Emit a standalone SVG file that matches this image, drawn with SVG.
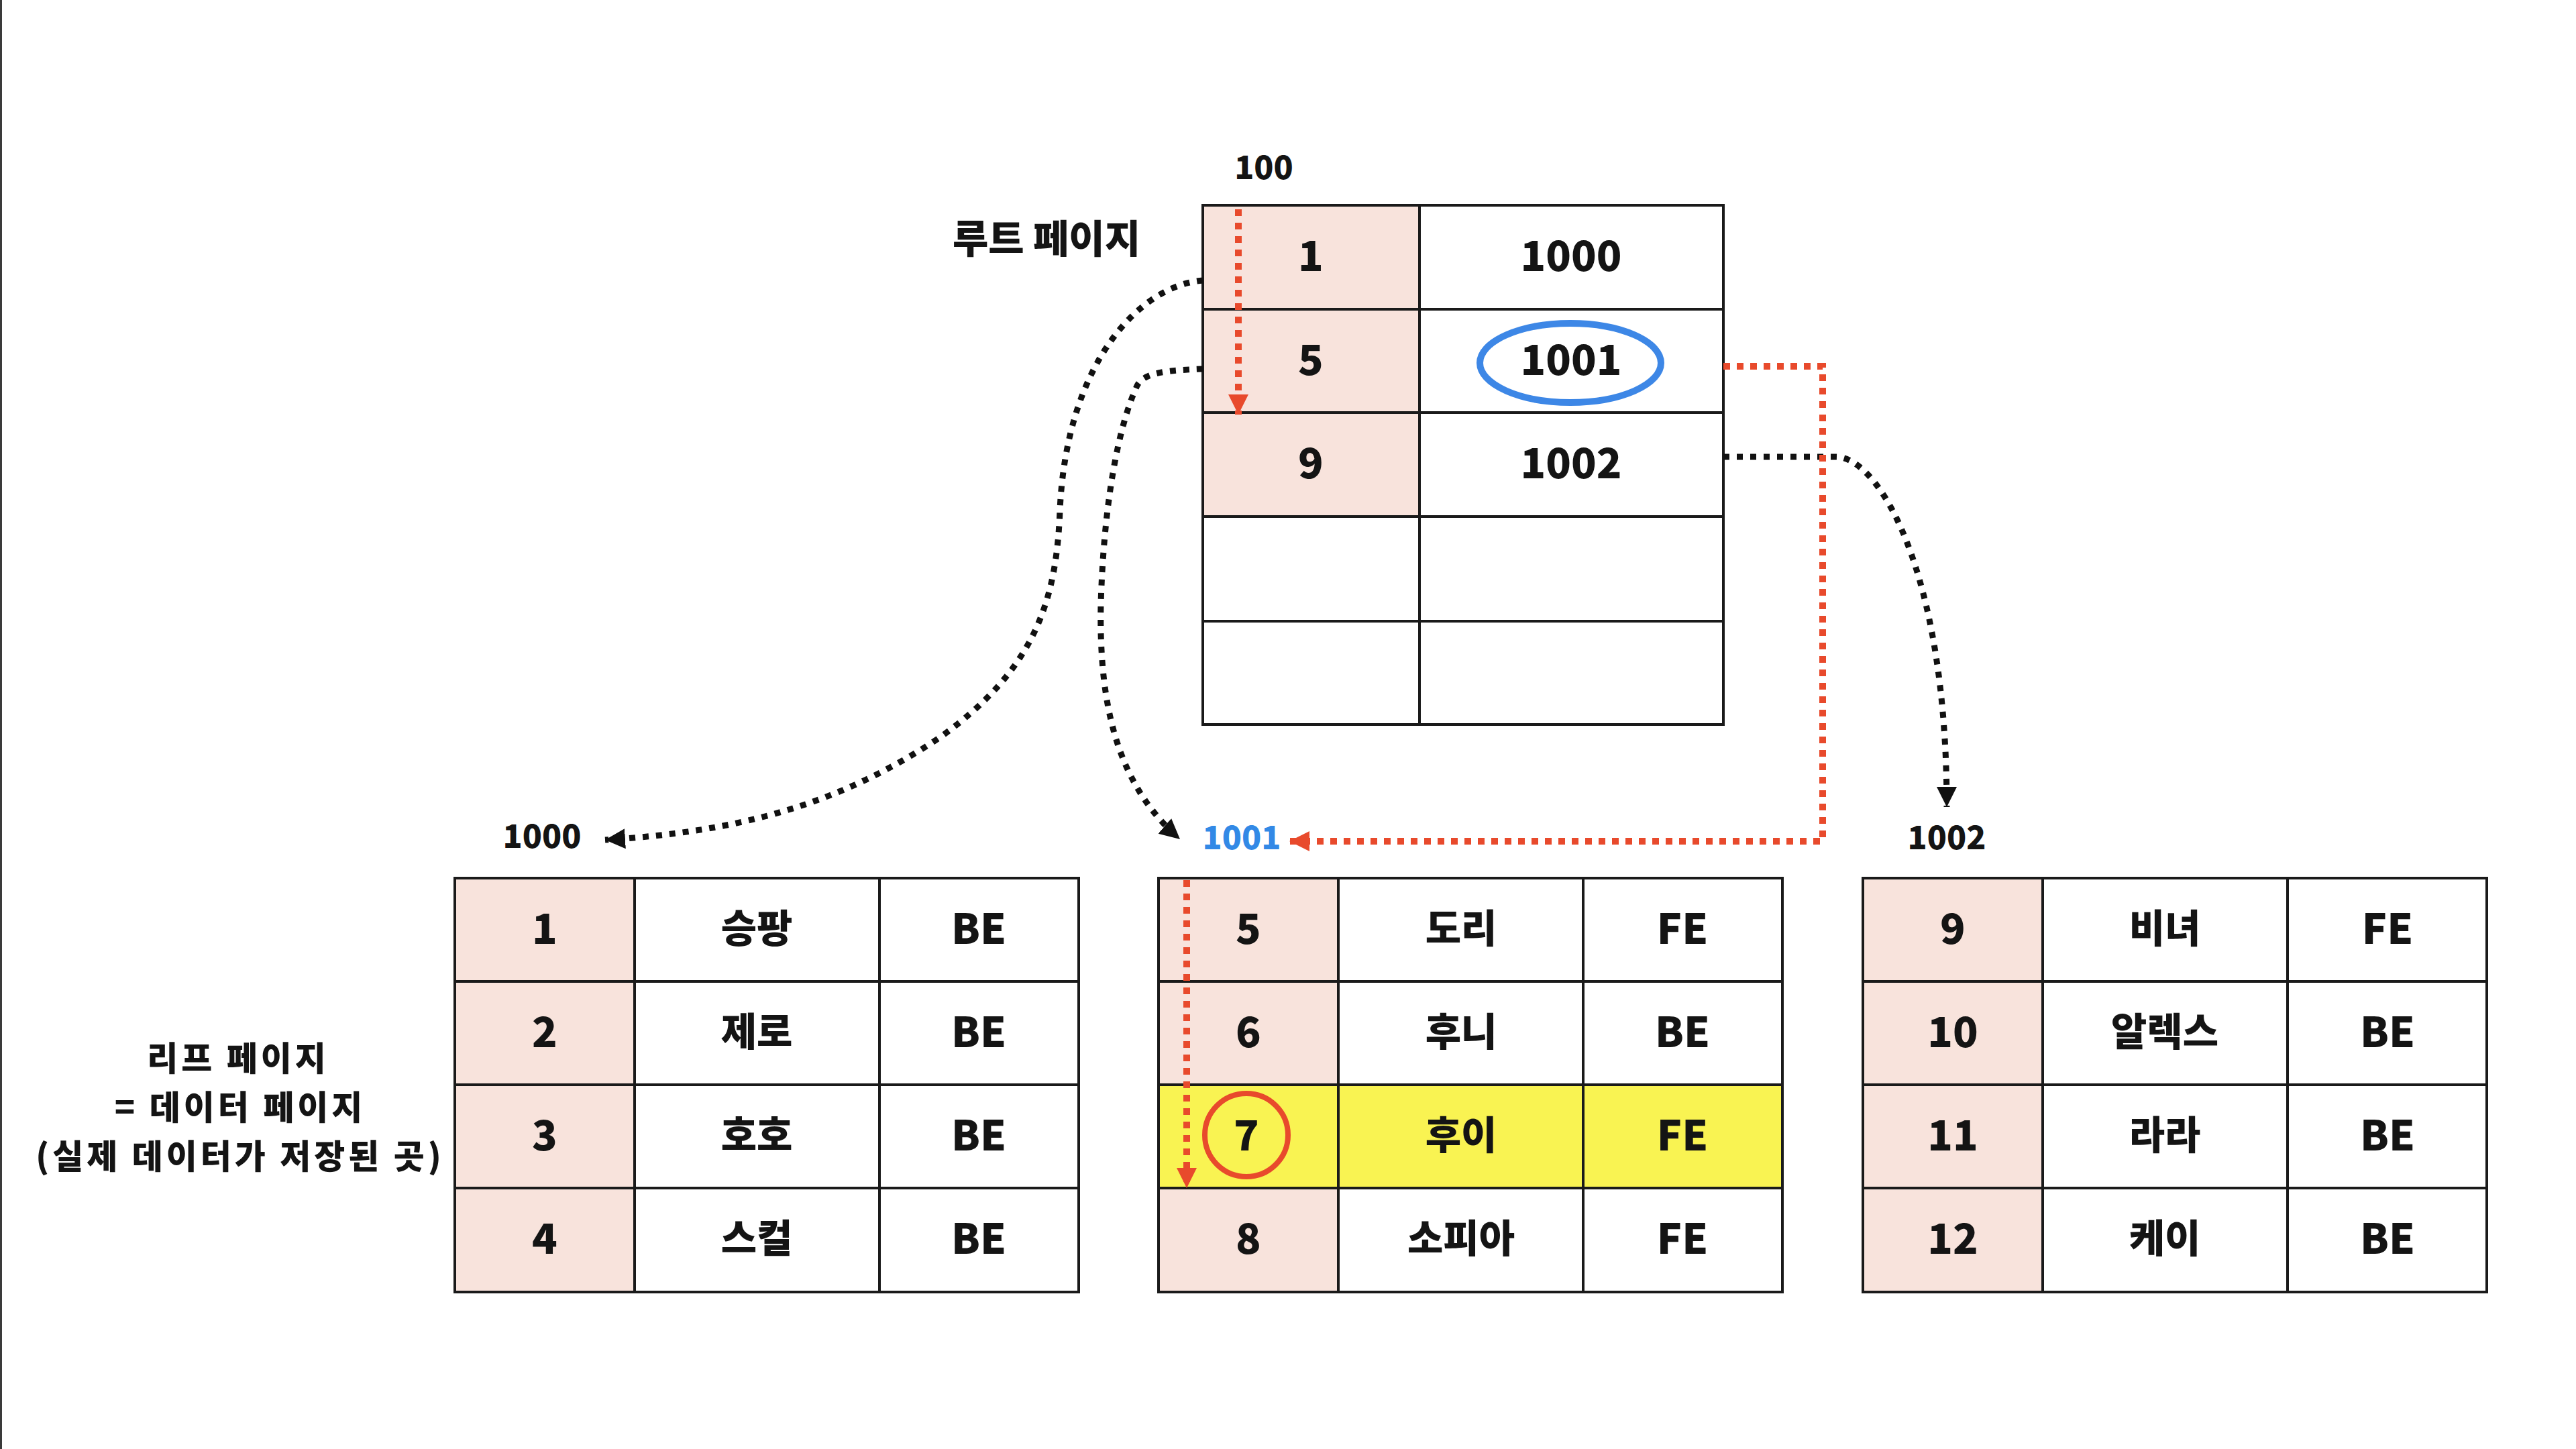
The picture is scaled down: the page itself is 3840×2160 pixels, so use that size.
<svg xmlns="http://www.w3.org/2000/svg" width="3840" height="2160" viewBox="0 0 3840 2160">
<style>
  text { font-family: "Noto Sans CJK KR", "Noto Sans", sans-serif; font-weight: 900; fill: #141414; text-anchor: middle; dominant-baseline: central; }
  .cell { fill: #ffffff; stroke: #1a1a1a; stroke-width: 4; }
  .key { fill: #f8e3dc; stroke: #1a1a1a; stroke-width: 4; }
  .hl { fill: #f9f352; stroke: #1a1a1a; stroke-width: 4; }
  .num { font-size: 62px; }
  .ko { font-size: 58px; }
  .side { font-size: 50px; letter-spacing: 5px; }
  .lbl { font-size: 48px; }
  .title { font-size: 58px; }
  .blue { fill: #3289e6; }
  .dk { fill: none; stroke: #111111; stroke-width: 9; stroke-dasharray: 9 11; }
  .rd { fill: none; stroke: #e84a2c; stroke-width: 10; stroke-dasharray: 10 10; }
</style>
<defs>
  <marker id="ahk" markerUnits="userSpaceOnUse" markerWidth="32" markerHeight="32" refX="30" refY="15" orient="auto">
    <path d="M0,0 L30,15 L0,30 Z" fill="#111111"/>
  </marker>
  <marker id="ahr" markerUnits="userSpaceOnUse" markerWidth="32" markerHeight="32" refX="30" refY="15" orient="auto">
    <path d="M0,0 L30,15 L0,30 Z" fill="#e84a2c"/>
  </marker>
</defs>
<rect x="0" y="0" width="3840" height="2160" fill="#ffffff"/>
<rect x="0" y="0" width="3" height="2160" fill="#3a3a3a"/>

<g id="root-page">
  <text class="title" x="1560" y="352">루트 페이지</text>
  <text class="lbl" x="1884" y="246">100</text>
  <rect class="key" x="1793" y="306" width="323" height="155"/>
  <rect class="cell" x="2116" y="306" width="453" height="155"/>
  <rect class="key" x="1793" y="461" width="323" height="154"/>
  <rect class="cell" x="2116" y="461" width="453" height="154"/>
  <rect class="key" x="1793" y="615" width="323" height="155"/>
  <rect class="cell" x="2116" y="615" width="453" height="155"/>
  <rect class="cell" x="1793" y="770" width="323" height="156"/>
  <rect class="cell" x="2116" y="770" width="453" height="156"/>
  <rect class="cell" x="1793" y="926" width="323" height="154"/>
  <rect class="cell" x="2116" y="926" width="453" height="154"/>
  <text class="num" x="1954" y="377">1</text>
  <text class="num" x="2342" y="377">1000</text>
  <text class="num" x="1954" y="532">5</text>
  <text class="num" x="2342" y="532">1001</text>
  <text class="num" x="1954" y="686">9</text>
  <text class="num" x="2342" y="686">1002</text>
  <ellipse cx="2341" cy="541" rx="135" ry="59" fill="none" stroke="#3d87e6" stroke-width="10"/>
</g>

<g id="leaf-label">
  <text class="side" x="355" y="1574">리프 페이지</text>
  <text class="side" x="358" y="1647">= 데이터 페이지</text>
  <text class="side" x="358" y="1720">(실제 데이터가 저장된 곳)</text>
</g>

<g id="page-1000">
  <text class="lbl" x="808" y="1243">1000</text>
  <rect class="key" x="678" y="1309" width="268" height="154"/>
  <rect class="cell" x="946" y="1309" width="365" height="154"/>
  <rect class="cell" x="1311" y="1309" width="297" height="154"/>
  <rect class="key" x="678" y="1463" width="268" height="154"/>
  <rect class="cell" x="946" y="1463" width="365" height="154"/>
  <rect class="cell" x="1311" y="1463" width="297" height="154"/>
  <rect class="key" x="678" y="1617" width="268" height="154"/>
  <rect class="cell" x="946" y="1617" width="365" height="154"/>
  <rect class="cell" x="1311" y="1617" width="297" height="154"/>
  <rect class="key" x="678" y="1771" width="268" height="155"/>
  <rect class="cell" x="946" y="1771" width="365" height="155"/>
  <rect class="cell" x="1311" y="1771" width="297" height="155"/>
  <text class="num" x="812" y="1380">1</text><text class="ko" x="1128" y="1380">승팡</text><text class="num" x="1459" y="1380">BE</text>
  <text class="num" x="812" y="1534">2</text><text class="ko" x="1128" y="1534">제로</text><text class="num" x="1459" y="1534">BE</text>
  <text class="num" x="812" y="1688">3</text><text class="ko" x="1128" y="1688">호호</text><text class="num" x="1459" y="1688">BE</text>
  <text class="num" x="812" y="1842">4</text><text class="ko" x="1128" y="1842">스컬</text><text class="num" x="1459" y="1842">BE</text>
</g>

<g id="page-1001">
  <text class="lbl blue" x="1851" y="1245">1001</text>
  <rect class="key" x="1727" y="1309" width="268" height="154"/>
  <rect class="cell" x="1995" y="1309" width="365" height="154"/>
  <rect class="cell" x="2360" y="1309" width="297" height="154"/>
  <rect class="key" x="1727" y="1463" width="268" height="154"/>
  <rect class="cell" x="1995" y="1463" width="365" height="154"/>
  <rect class="cell" x="2360" y="1463" width="297" height="154"/>
  <rect class="hl" x="1727" y="1617" width="268" height="154"/>
  <rect class="hl" x="1995" y="1617" width="365" height="154"/>
  <rect class="hl" x="2360" y="1617" width="297" height="154"/>
  <rect class="key" x="1727" y="1771" width="268" height="155"/>
  <rect class="cell" x="1995" y="1771" width="365" height="155"/>
  <rect class="cell" x="2360" y="1771" width="297" height="155"/>
  <text class="num" x="1861" y="1380">5</text><text class="ko" x="2178" y="1380">도리</text><text class="num" x="2508" y="1380">FE</text>
  <text class="num" x="1861" y="1534">6</text><text class="ko" x="2178" y="1534">후니</text><text class="num" x="2508" y="1534">BE</text>
  <text class="num" x="1858" y="1688">7</text><text class="ko" x="2178" y="1688">후이</text><text class="num" x="2508" y="1688">FE</text>
  <text class="num" x="1861" y="1842">8</text><text class="ko" x="2178" y="1842">소피아</text><text class="num" x="2508" y="1842">FE</text>
  <circle cx="1858" cy="1692" r="62" fill="none" stroke="#e84a2c" stroke-width="8"/>
</g>

<g id="page-1002">
  <text class="lbl" x="2902" y="1245">1002</text>
  <rect class="key" x="2777" y="1309" width="268" height="154"/>
  <rect class="cell" x="3045" y="1309" width="365" height="154"/>
  <rect class="cell" x="3410" y="1309" width="297" height="154"/>
  <rect class="key" x="2777" y="1463" width="268" height="154"/>
  <rect class="cell" x="3045" y="1463" width="365" height="154"/>
  <rect class="cell" x="3410" y="1463" width="297" height="154"/>
  <rect class="key" x="2777" y="1617" width="268" height="154"/>
  <rect class="cell" x="3045" y="1617" width="365" height="154"/>
  <rect class="cell" x="3410" y="1617" width="297" height="154"/>
  <rect class="key" x="2777" y="1771" width="268" height="155"/>
  <rect class="cell" x="3045" y="1771" width="365" height="155"/>
  <rect class="cell" x="3410" y="1771" width="297" height="155"/>
  <text class="num" x="2911" y="1380">9</text><text class="ko" x="3227" y="1380">비녀</text><text class="num" x="3559" y="1380">FE</text>
  <text class="num" x="2911" y="1534">10</text><text class="ko" x="3227" y="1534">알렉스</text><text class="num" x="3559" y="1534">BE</text>
  <text class="num" x="2911" y="1688">11</text><text class="ko" x="3227" y="1688">라라</text><text class="num" x="3559" y="1688">BE</text>
  <text class="num" x="2911" y="1842">12</text><text class="ko" x="3227" y="1842">케이</text><text class="num" x="3559" y="1842">BE</text>
</g>

<g id="connectors">
  <path class="dk" d="M1793,418 C1700,425 1590,540 1580,760 C1575,900 1540,1000 1400,1100 C1250,1200 1100,1240 902,1252" marker-end="url(#ahk)"/>
  <path class="dk" d="M1793,550 C1740,552 1705,555 1695,575 C1665,640 1645,760 1641,900 C1638,1050 1665,1170 1759,1251" marker-end="url(#ahk)"/>
  <path class="dk" d="M2569,681 L2737,681 C2800,681 2902,850 2902,1203" marker-end="url(#ahk)"/>
  <path class="rd" d="M1846,312 L1846,618" marker-end="url(#ahr)"/>
  <path class="rd" d="M2569,546 L2717,546 L2717,1254 L1922,1254" marker-end="url(#ahr)"/>
  <path class="rd" d="M1769,1312 L1769,1771" marker-end="url(#ahr)"/>
</g>
</svg>
